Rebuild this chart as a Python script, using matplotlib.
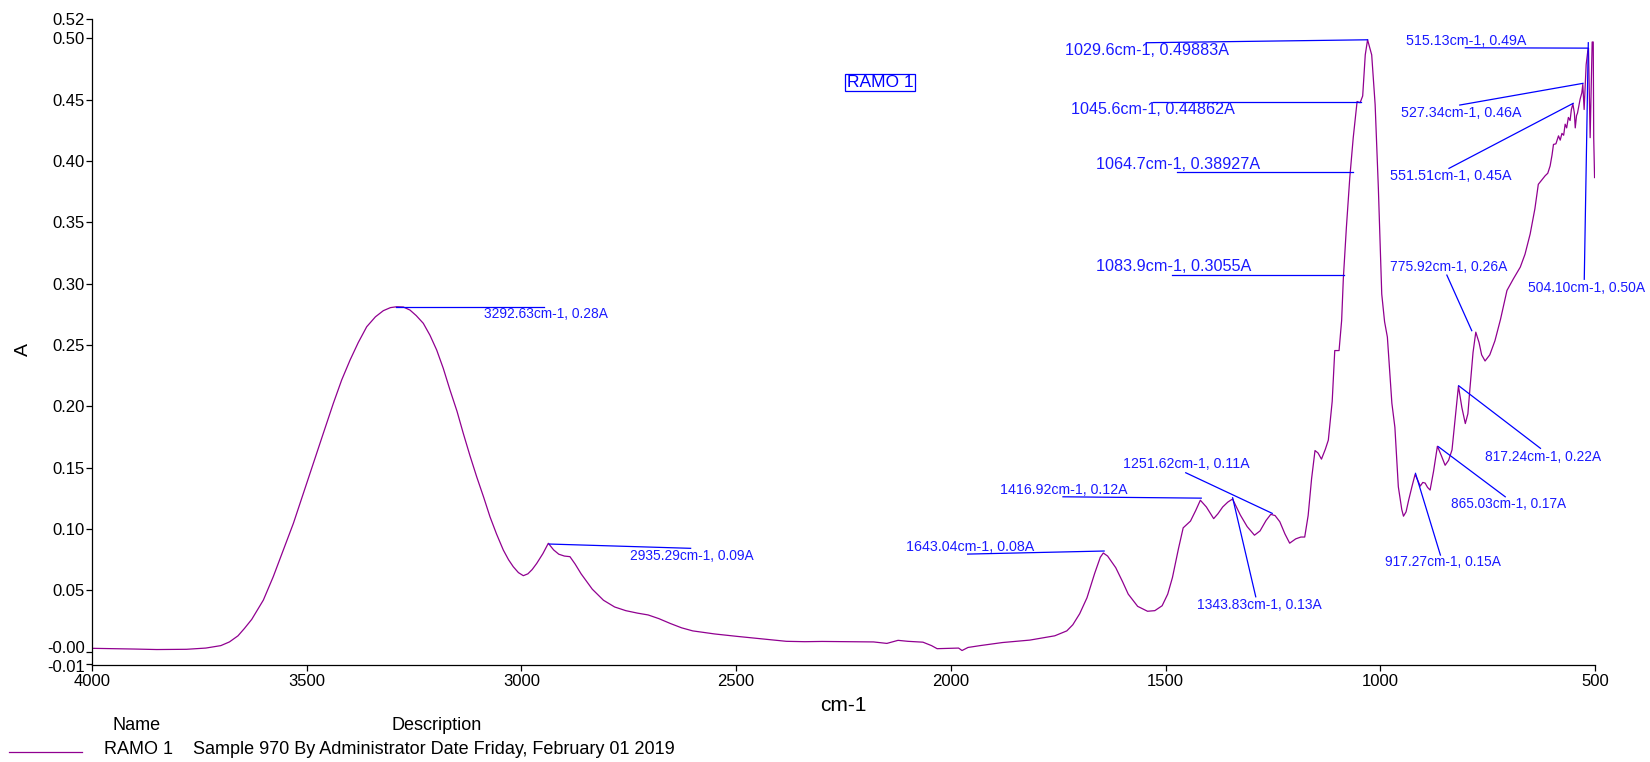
import matplotlib
matplotlib.use("Agg")
import matplotlib.pyplot as plt
import matplotlib.transforms as mtransforms
from matplotlib.lines import Line2D

plt.rcParams['font.family'] = ['Liberation Sans', 'DejaVu Sans']

# spectre (nombre d'onde, absorbance)
wavenumber = [
    4000, 3900, 3849, 3780, 3735, 3700, 3680, 3660, 3645, 3628, 3601, 3578, 3554.5, 3531,
    3508, 3484.7, 3461.4, 3438, 3418.6, 3399, 3380, 3360.3, 3340, 3321.6, 3305, 3290.5,
    3275, 3259.5, 3245, 3228.5, 3213, 3197.3, 3182, 3166.3, 3150, 3135.4, 3120, 3104.2,
    3088, 3073.2, 3058, 3042.2, 3030, 3019, 3007, 2995.6, 2985, 2975, 2964.4, 2950, 2937.4,
    2925, 2913, 2900, 2887, 2875, 2861, 2835, 2809, 2783, 2757, 2730, 2705, 2680, 2653,
    2627, 2601, 2550, 2497, 2440, 2383, 2340, 2300, 2232, 2180, 2149, 2123, 2100, 2065,
    2045, 2032, 2005, 1982, 1974, 1960, 1932, 1880, 1816, 1758, 1730, 1716, 1700, 1683,
    1665, 1652, 1645, 1635, 1616, 1600, 1587, 1565, 1542, 1525, 1508, 1495, 1484, 1470,
    1459, 1442, 1430, 1419, 1405, 1388, 1378, 1367, 1355, 1344, 1335, 1326, 1310, 1293,
    1280, 1266, 1255, 1245, 1234, 1222, 1211, 1197, 1185, 1176, 1168, 1160, 1152, 1145,
    1137, 1128, 1121, 1112, 1106, 1096, 1090, 1086, 1079, 1071, 1063, 1054, 1047, 1041,
    1035, 1029.6, 1020, 1012, 1004.5, 996.6, 990, 983.5, 973, 966, 958, 950, 946, 940,
    934, 926, 919, 913, 907, 901, 895.6, 890, 884, 876, 867, 858, 849, 841, 833, 826,
    818, 810, 802, 796, 791, 784, 777.6, 770, 764, 756, 745, 733, 720, 705, 690, 674,
    663, 651, 640, 632, 624, 616, 610, 604.5, 600, 596.7, 591, 585, 581, 577, 573,
    569.5, 566, 562, 558, 555, 551.5, 548, 546, 543, 540.8, 537, 534.6, 530.7, 528.4,
    525.3, 523, 520.6, 517, 515.2, 513, 511.3, 509, 506.6, 504.1, 503, 501]
absorbance = [
    0.0028, 0.0022, 0.0018, 0.002, 0.003, 0.005, 0.008, 0.013, 0.019, 0.0264, 0.0421, 0.0611, 0.0829, 0.1047,
    0.129, 0.1536, 0.178, 0.2025, 0.2215, 0.2378, 0.252, 0.2649, 0.273, 0.278, 0.2805, 0.2812,
    0.281, 0.2785, 0.274, 0.2677, 0.258, 0.2459, 0.231, 0.2133, 0.196, 0.178, 0.160, 0.1426,
    0.126, 0.110, 0.096, 0.0829, 0.075, 0.0693, 0.0645, 0.062, 0.0635, 0.067, 0.072, 0.080, 0.0884,
    0.083, 0.0795, 0.078, 0.0775, 0.0715, 0.0635, 0.051, 0.042, 0.0365, 0.0335, 0.0315, 0.030, 0.027, 0.023,
    0.0195, 0.017, 0.0145, 0.0125, 0.0105, 0.0085, 0.0082, 0.0084, 0.0082, 0.008, 0.0068, 0.0093, 0.0085, 0.0078,
    0.005, 0.0025, 0.0028, 0.003, 0.001, 0.0035, 0.005, 0.0075, 0.0095, 0.013, 0.017, 0.022, 0.031, 0.044,
    0.064, 0.077, 0.0805, 0.078, 0.0685, 0.057, 0.047, 0.037, 0.033, 0.0335, 0.0375, 0.047, 0.0605, 0.084,
    0.101, 0.1065, 0.115, 0.1235, 0.118, 0.1085, 0.1125, 0.118, 0.122, 0.1245, 0.118, 0.1115, 0.102, 0.095,
    0.0985, 0.107, 0.112, 0.111, 0.106, 0.096, 0.0885, 0.092, 0.0935, 0.0935, 0.111, 0.141, 0.164, 0.162,
    0.157, 0.165, 0.1725, 0.204, 0.2455, 0.2455, 0.270, 0.3045, 0.3455, 0.3865, 0.419, 0.4485, 0.4475, 0.453,
    0.4865, 0.4988, 0.4865, 0.446, 0.378, 0.2915, 0.269, 0.2565, 0.2025, 0.183, 0.1345, 0.116, 0.1105, 0.114,
    0.1235, 0.135, 0.1445, 0.140, 0.135, 0.138, 0.1375, 0.134, 0.1318, 0.147, 0.1675, 0.160, 0.152, 0.156, 0.1645, 0.189,
    0.2165, 0.199, 0.186, 0.194, 0.2155, 0.244, 0.2605, 0.252, 0.242, 0.237, 0.242, 0.2535, 0.271, 0.2945, 0.304, 0.3135,
    0.324, 0.3405, 0.361, 0.381, 0.3845, 0.388, 0.390, 0.396, 0.405, 0.4135, 0.414, 0.4205, 0.417, 0.4225, 0.421,
    0.430, 0.427, 0.4355, 0.433, 0.442, 0.4465, 0.439, 0.427, 0.437, 0.439, 0.446, 0.4505, 0.4555, 0.4625,
    0.442, 0.459, 0.4785, 0.489, 0.492, 0.449, 0.419, 0.459, 0.497, 0.497, 0.419, 0.3865]

# pics annotés : pointe du trait (nombre d'onde, absorbance) et texte
peak_wn = [3292.63, 2935.29, 1643.04, 1416.92, 1251.62, 1343.83, 1029.6, 1045.6, 1064.7,
           1083.9, 517.0, 528.0, 550.8, 787.0, 515.6, 817.4, 864.6, 918.0]
peak_abs = [0.2807, 0.0878, 0.0821, 0.1252, 0.1128, 0.1255, 0.4988, 0.4478, 0.3908,
            0.3068, 0.4920, 0.4633, 0.4470, 0.2617, 0.4964, 0.2168, 0.1671, 0.1454]
peak_labels = ["3292.63cm-1, 0.28A", "2935.29cm-1, 0.09A", "1643.04cm-1, 0.08A",
               "1416.92cm-1, 0.12A", "1251.62cm-1, 0.11A", "1343.83cm-1, 0.13A",
               "1029.6cm-1, 0.49883A", "1045.6cm-1, 0.44862A", "1064.7cm-1, 0.38927A",
               "1083.9cm-1, 0.3055A", "515.13cm-1, 0.49A", "527.34cm-1, 0.46A",
               "551.51cm-1, 0.45A", "775.92cm-1, 0.26A", "504.10cm-1, 0.50A",
               "817.24cm-1, 0.22A", "865.03cm-1, 0.17A", "917.27cm-1, 0.15A"]

sample_name = "RAMO 1"
sample_desc = "Sample 970 By Administrator Date Friday, February 01 2019"

y_ticks = [-0.01, 0.0, 0.05, 0.10, 0.15, 0.20, 0.25, 0.30, 0.35, 0.40, 0.45, 0.50, 0.5155]
y_ticklabels = ["-0.01", "-0.00", "0.05", "0.10", "0.15", "0.20", "0.25", "0.30",
                "0.35", "0.40", "0.45", "0.50", "0.52"]
x_ticks = [4000, 3500, 3000, 2500, 2000, 1500, 1000, 500]

# mise en page des étiquettes : départ du trait, position du texte, taille
line_start = [(2947, 0.2807), (2606, 0.0843), (1961, 0.0796), (1739, 0.1263), (1453, 0.1459),
              (1290, 0.0448), (1545, 0.4964), (1530, 0.4478), (1473, 0.3908), (1484, 0.3068),
              (802, 0.4923), (815, 0.4456), (840, 0.394), (845, 0.307), (525, 0.3036),
              (627, 0.1658), (709, 0.1263), (860, 0.0788)]
text_pos = [(3088, 0.2753), (2747, 0.078), (2105, 0.0856), (1885, 0.1318), (1598, 0.153),
            (1427, 0.0381), (1734, 0.4899), (1720, 0.4421), (1662, 0.3975), (1662, 0.3144),
            (940, 0.498), (952, 0.4394), (977, 0.3878), (977, 0.3138), (655, 0.2962),
            (755, 0.1585), (836, 0.1204), (989, 0.0729)]
text_size = [9.9, 9.9, 10.3, 10.2, 10.2, 10, 11.6, 11.6, 11.6, 11.7, 10.3, 10.3, 10.4, 10,
             10, 9.9, 9.8, 9.9]

fig = plt.figure(figsize=(16.5, 7.62), dpi=100)
ax = fig.add_axes([92 / 1650, 1 - 665 / 762, (1595 - 92) / 1650, (665 - 19.3) / 762])

ax.plot(wavenumber, absorbance, color='#900090', lw=0.9)

for i in range(len(peak_labels)):
    ax.plot([line_start[i][0], peak_wn[i]], [line_start[i][1], peak_abs[i]],
            color='#0000ff', lw=0.9)
    ax.text(text_pos[i][0], text_pos[i][1], peak_labels[i], color='#1a1aff',
            fontsize=text_size[i], ha='left', va='center')

# cadre avec le nom de l'échantillon
ax.text(2165, 0.4639, sample_name, color='#0000ff', fontsize=12.5, ha='center', va='center',
        bbox=dict(boxstyle='square,pad=0.08', fc='white', ec='#0000ff', lw=0.9))

ax.set_xlim(4000, 500)
ax.set_ylim(-0.0108, 0.5155)
ax.set_xticks(x_ticks)
ax.set_yticks(y_ticks)
ax.set_yticklabels(y_ticklabels)
ax.tick_params(axis='both', labelsize=12, length=4.5, width=0.9, direction='out')
ax.tick_params(axis='y', pad=0.5)
ax.tick_params(axis='x', pad=2)
for s in ['top', 'right']:
    ax.spines[s].set_visible(False)
for s in ['left', 'bottom']:
    ax.spines[s].set_linewidth(0.9)

# les deux étiquettes du bas sont décalées pour ne pas se chevaucher
labels = ax.get_yticklabels()
labels[0].set_transform(labels[0].get_transform()
                        + mtransforms.ScaledTranslation(0, -0.024, fig.dpi_scale_trans))
labels[1].set_transform(labels[1].get_transform()
                        + mtransforms.ScaledTranslation(0, 0.047, fig.dpi_scale_trans))

ax.set_xlabel("cm-1", fontsize=15, labelpad=5)
fig.text(23 / 1650, 1 - 350 / 762, "A", fontsize=14, rotation=90, ha='center', va='center')

# légende en bas de la figure
fig.text(112.5 / 1650, 1 - 726 / 762, "Name", fontsize=13, va='center')
fig.text(391.5 / 1650, 1 - 726 / 762, "Description", fontsize=13, va='center')
fig.add_artist(Line2D([9 / 1650, 82 / 1650], [1 - 752 / 762, 1 - 752 / 762],
                      color='#900090', lw=0.9, transform=fig.transFigure))
fig.text(103.5 / 1650, 1 - 750 / 762, sample_name, fontsize=13, va='center')
fig.text(193 / 1650, 1 - 750 / 762, sample_desc, fontsize=13, va='center')

fig.savefig("out.png", dpi=100)
